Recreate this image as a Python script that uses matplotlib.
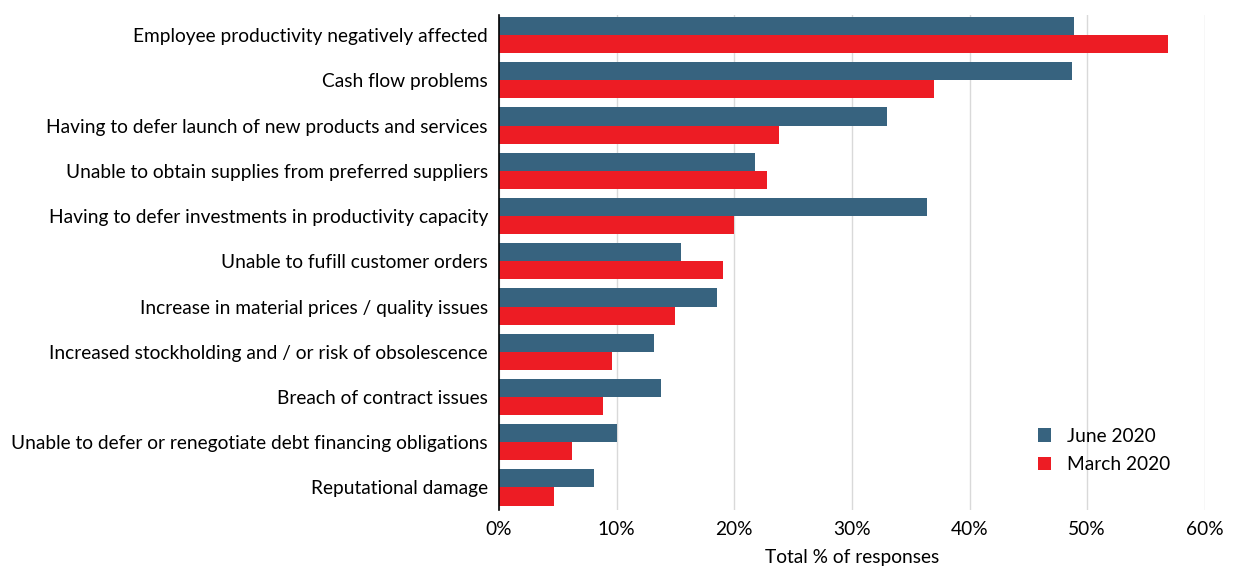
import numpy as np
import matplotlib
matplotlib.use('Agg')
import matplotlib.pyplot as plt
from matplotlib.ticker import PercentFormatter

categories = [
    'Employee productivity negatively affected',
    'Cash flow problems',
    'Having to defer launch of new products and services',
    'Unable to obtain supplies from preferred suppliers',
    'Having to defer investments in productivity capacity',
    'Unable to fufill customer orders',
    'Increase in material prices / quality issues',
    'Increased stockholding and / or risk of obsolescence',
    'Breach of contract issues',
    'Unable to defer or renegotiate debt financing obligations',
    'Reputational damage',
]
june_2020 = [48.9, 48.7, 33.0, 21.8, 36.4, 15.5, 18.5, 13.2, 13.8, 10.0, 8.1]
march_2020 = [56.9, 37.0, 23.8, 22.8, 20.0, 19.0, 15.0, 9.6, 8.8, 6.2, 4.7]

plt.rcParams['font.family'] = ['Lato', 'DejaVu Sans']

fig = plt.figure(figsize=(12.37, 5.68), dpi=100)
ax = fig.add_axes([0.4034, 0.102, 0.5706, 0.872])

y = np.arange(len(categories))
h = 0.4
ax.barh(y - h / 2, june_2020, height=h, color='#37637F', label='June 2020', zorder=3)
ax.barh(y + h / 2, march_2020, height=h, color='#ED1C24', label='March 2020', zorder=3)

ax.set_yticks(y)
ax.set_yticklabels(categories, fontsize=13.8)
ax.set_ylim(len(categories) - 0.5, -0.45)
ax.set_xlim(0, 60)
ax.set_xticks(np.arange(0, 61, 10))
ax.xaxis.set_major_formatter(PercentFormatter(decimals=0))
ax.tick_params(axis='x', labelsize=13.8, length=0, pad=8)
ax.tick_params(axis='y', length=0, pad=8)
ax.grid(axis='x', color='#d9d9d9', linewidth=1, zorder=0)
for s in ['top', 'right', 'bottom']:
    ax.spines[s].set_visible(False)
ax.spines['left'].set_color('black')
ax.spines['left'].set_linewidth(1.2)
ax.spines['left'].set_zorder(4)

ax.set_xlabel('Total % of responses', fontsize=13.8, labelpad=8)

ax.legend(loc='lower right', bbox_to_anchor=(0.975, 0.04), frameon=False,
          fontsize=13.8, handlelength=0.7, handleheight=0.7, handletextpad=0.8,
          labelspacing=0.6)

fig.savefig('out.png', dpi=100)
